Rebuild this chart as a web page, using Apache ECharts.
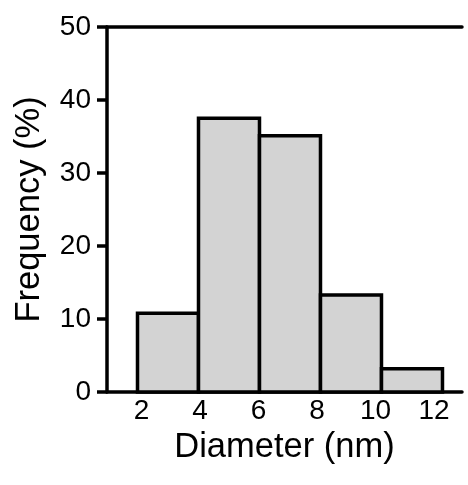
<!DOCTYPE html>
<html>
<head>
<meta charset="utf-8">
<script src="https://cdn.jsdelivr.net/npm/echarts@6/dist/echarts.min.js"></script>
<style>html,body{margin:0;padding:0;background:#fff}#c{width:468px;height:485px}</style>
</head>
<body>
<div id="c"></div>
<script>
// Histogram data
var binEdges = [2, 4, 6, 8, 10, 12];
var frequency = [10.8, 37.5, 35.1, 13.3, 3.2];
var xTickLabels = [2, 4, 6, 8, 10, 12];
var yTicks = [0, 10, 20, 30, 40, 50];

var FONT = 'Liberation Sans, Arial, sans-serif';
var data = frequency.map(function (f, i) { return [binEdges[i], binEdges[i + 1], f]; });

var chart = echarts.init(document.getElementById('c'), null, { renderer: 'canvas' });
chart.setOption({
  animation: false,
  backgroundColor: '#fff',
  grid: { left: 107, right: 6, top: 27, bottom: 93 },
  xAxis: [
    {
      type: 'value', min: 1, max: 12.64, position: 'bottom',
      axisLine: { show: true, lineStyle: { color: '#000', width: 3.5 } },
      axisTick: { show: false }, axisLabel: { show: false }, splitLine: { show: false }
    },
    {
      type: 'value', min: 0.821, max: 12.957, position: 'bottom',
      axisLine: { show: false }, axisTick: { show: false }, splitLine: { show: false },
      axisLabel: { show: true, customValues: xTickLabels, color: '#000', fontSize: 28, fontFamily: FONT, margin: 5 },
      name: 'Diameter (nm)', nameLocation: 'middle', nameGap: 37,
      nameTextStyle: { color: '#000', fontSize: 34.5, fontFamily: FONT }
    },
    {
      type: 'value', min: 0, max: 1, position: 'top',
      axisLine: { show: true, lineStyle: { color: '#000', width: 3.5 } },
      axisTick: { show: false }, axisLabel: { show: false }, splitLine: { show: false }
    }
  ],
  yAxis: {
    type: 'value', min: 0, max: 50, interval: 10,
    axisLine: { show: true, lineStyle: { color: '#000', width: 3.5 } },
    axisTick: { show: true, length: 10, lineStyle: { color: '#000', width: 3.5 } },
    axisLabel: { color: '#000', fontSize: 28, fontFamily: FONT, margin: 16,
      customValues: yTicks },
    splitLine: { show: false },
    name: 'Frequency (%)', nameLocation: 'middle', nameGap: 60, nameRotate: 90,
    nameTextStyle: { color: '#000', fontSize: 34.5, fontFamily: FONT }
  },
  series: [{
    type: 'custom',
    xAxisIndex: 0, yAxisIndex: 0,
    data: data,
    renderItem: function (params, api) {
      var p0 = api.coord([api.value(0), 0]);
      var p1 = api.coord([api.value(1), api.value(2)]);
      return {
        type: 'rect',
        shape: { x: p0[0], y: p1[1], width: p1[0] - p0[0], height: p0[1] - p1[1] },
        style: { fill: '#d3d3d3', stroke: '#000', lineWidth: 3.5 }
      };
    },
    encode: { x: [0, 1], y: 2 }
  }]
});
</script>
</body>
</html>
